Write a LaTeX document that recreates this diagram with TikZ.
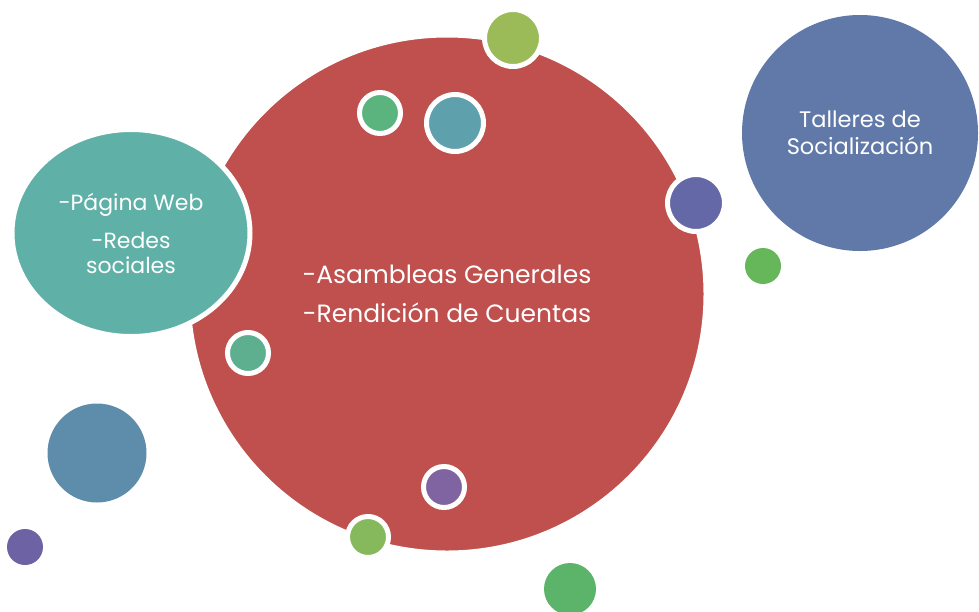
\documentclass[tikz,border=0pt]{standalone}
\usepackage{fontspec}
\setmainfont{Poppins}
\usepackage{tikz}
\usetikzlibrary{shapes.geometric}
\definecolor{cred}{HTML}{C0504D}
\definecolor{cteal}{HTML}{5FB0A6}
\definecolor{cblue}{HTML}{6079A8}
\definecolor{clime}{HTML}{9BBB59}
\definecolor{cmint}{HTML}{5BB37E}
\definecolor{cpetrol}{HTML}{5EA1AD}
\definecolor{cindigo}{HTML}{6468A7}
\definecolor{cgrass}{HTML}{66B65A}
\definecolor{cjade}{HTML}{5EAF8F}
\definecolor{csteel}{HTML}{5E8DAB}
\definecolor{cviolet}{HTML}{8064A2}
\definecolor{colive}{HTML}{86B95C}
\definecolor{cplum}{HTML}{6D62A3}
\definecolor{cleaf}{HTML}{5CB46A}
\tikzset{
  bubble/.style={circle, draw=white, line width=5pt, inner sep=0pt},
  dot/.style={circle, inner sep=0pt},
  label/.style={text=white, align=center}}

\begin{document}
\begin{tikzpicture}[x=1pt, y=-1pt]
  \useasboundingbox (0,0) rectangle (979,611);
  \node[bubble, fill=cred, minimum size=518pt, font=\fontsize{25}{39}\selectfont, label] (asam) at (447,294)
    {-Asambleas Generales\\-Rendición de Cuentas};
  \node[ellipse, draw=white, line width=5pt, fill=cteal, minimum width=238pt, minimum height=207pt, inner sep=0pt,
    font=\fontsize{22}{25}\selectfont, label] (web) at (131,233) {-Página Web\\[13pt]-Redes\\sociales};
  \node[dot, fill=cblue, minimum size=236pt, font=\fontsize{22.5}{27}\selectfont, label] (tall) at (860,133)
    {Talleres de\\Socialización};
  % small bubbles
  \node[bubble, fill=clime, minimum size=57pt] (b1) at (513,38) {};
  \node[bubble, fill=cmint, minimum size=41pt] (b2) at (380,113) {};
  \node[bubble, fill=cpetrol, minimum size=57pt] (b3) at (455,123) {};
  \node[bubble, fill=cindigo, minimum size=57pt] (b4) at (696,203) {};
  \node[bubble, fill=cjade, minimum size=41pt] (b5) at (248,353) {};
  \node[bubble, fill=cviolet, minimum size=41pt] (b6) at (444,487) {};
  \node[bubble, fill=colive, minimum size=41pt] (b7) at (368,537) {};
  \node[dot, fill=cgrass, minimum size=36pt] (d1) at (763,266) {};
  \node[dot, fill=csteel, minimum size=99pt] (d2) at (97,453) {};
  \node[dot, fill=cplum, minimum size=36pt] (d3) at (25,547) {};
  \node[dot, fill=cleaf, minimum size=52pt] (d4) at (570,589) {};
\end{tikzpicture}
\end{document}
